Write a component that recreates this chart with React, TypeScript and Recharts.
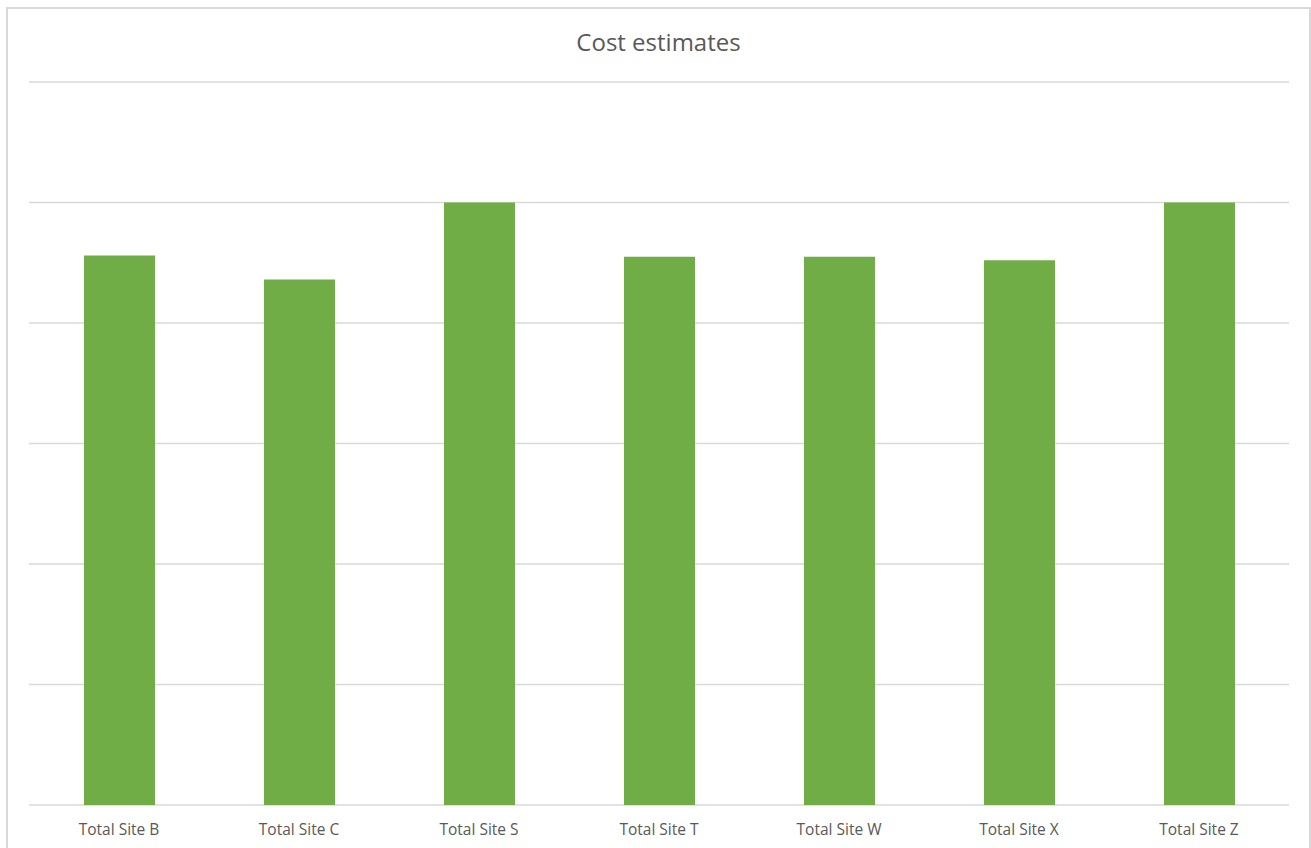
import { BarChart, Bar, XAxis, YAxis, CartesianGrid } from 'recharts';

const sites = ['Total Site B', 'Total Site C', 'Total Site S', 'Total Site T', 'Total Site W', 'Total Site X', 'Total Site Z'];
const costs = [456, 436, 500, 455, 455, 452, 500];
const yTicks = [0, 100, 200, 300, 400, 500, 600];

const data = sites.map((site, i) => ({ site, cost: costs[i] }));

const FONT = '"Open Sans", "Noto Sans", sans-serif';

export default function App() {
  return (
    <div style={{ position: 'absolute', left: 0, top: 0, width: 1311, height: 848, overflow: 'hidden', background: '#fff' }}>
      {/* chart frame, bottom edge falls outside the window */}
      <div
        style={{
          position: 'absolute',
          left: 6,
          top: 7,
          width: 1305,
          height: 860,
          boxSizing: 'border-box',
          border: '2px solid #d9d9d9',
        }}
      />
      <div
        style={{
          position: 'absolute',
          left: 0,
          top: 25,
          width: 1317,
          textAlign: 'center',
          fontFamily: FONT,
          fontSize: 24,
          color: '#595959',
        }}
      >
        Cost estimates
      </div>
      <div style={{ position: 'absolute', left: 0, top: 0 }}>
        <BarChart width={1311} height={848} data={data} margin={{ top: 82, right: 22, left: 29, bottom: 13 }}>
          <CartesianGrid vertical={false} stroke="#d9d9d9" strokeWidth={1.5} />
          <YAxis hide domain={[0, 600]} ticks={yTicks} />
          <XAxis
            dataKey="site"
            axisLine={false}
            tickLine={false}
            tickSize={0}
            tickMargin={19}
            height={30}
            tick={{ fill: '#595959', fontSize: 15.5, fontFamily: FONT }}
          />
          <Bar dataKey="cost" fill="#70ad47" barSize={71} isAnimationActive={false} />
        </BarChart>
      </div>
    </div>
  );
}
